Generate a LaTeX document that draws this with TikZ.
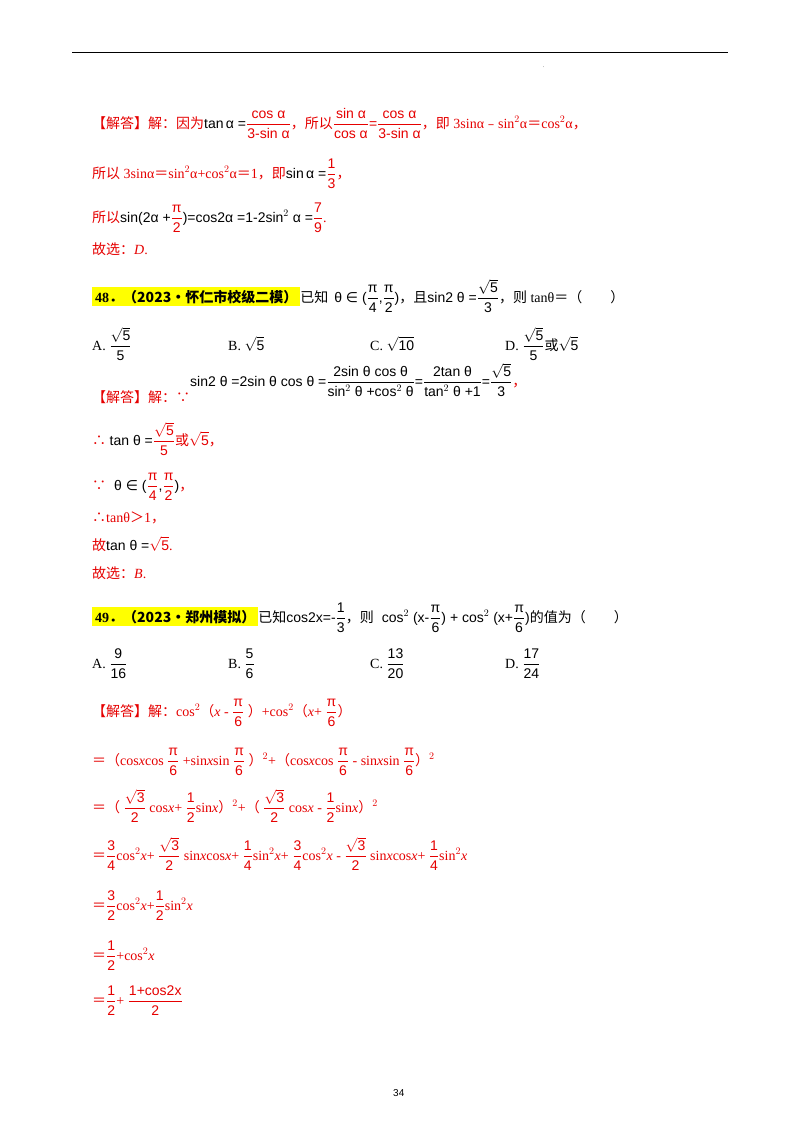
\documentclass[tikz,border=0pt]{standalone}
\usepackage{amsmath}
\usepackage{fontspec}
\usepackage{newunicodechar}
\setmainfont{Liberation Serif}
\newfontfamily\cjk{Noto Sans CJK SC}
\newfontfamily\ms{Liberation Sans}
\newfontfamily\djvfont{DejaVu Sans}
\newunicodechar{＝}{{\cjk\symbol{"FF1D}}}
\newunicodechar{﹣}{{\cjk\symbol{"FE63}}}
\newunicodechar{＞}{{\cjk\symbol{"FF1E}}}
\newunicodechar{．}{{\cjk\symbol{"FF0E}}}
\newunicodechar{，}{{\cjk\symbol{"FF0C}}}
\newunicodechar{∴}{{\cjk\symbol{"2234}}}
\newunicodechar{∵}{{\cjk\symbol{"2235}}}
\newunicodechar{∈}{{\djvfont\symbol{"2208}}}
\definecolor{ans}{RGB}{230,0,0}
\definecolor{hl}{RGB}{255,255,0}
\newcommand\fr[2]{\ensuremath{\dfrac{\text{\ms\rule{0pt}{15pt}#1}}{\text{\ms\rule[-4pt]{0pt}{16pt}#2}}}}
\newcommand\sq[1]{\ensuremath{\sqrt{\text{\ms #1}}}}
\newcommand\C[1]{{\cjk #1}}
\begin{document}
\begin{tikzpicture}[x=1pt,y=-1pt,
  ln/.style={anchor=base west,inner sep=0pt,font=\fontsize{14}{16}\selectfont},
  red/.style={ln,text=ans}]
\useasboundingbox (0,0) rectangle (800,1132);
\fill[white] (0,0) rectangle (800,1132);
\draw[line width=1pt] (72,53) -- (728,53);
\node[ln,font=\tiny] (dot) at (543,67) {.};
% Q47 answer
\node[red] (l1) at (92,128) {\C{【解答】解：因为}{\ms\color{black}tan\,α =}\fr{cos α}{3-sin α}\C{，所以}\fr{sin α}{cos α}{\ms =}\fr{cos α}{3-sin α}\C{，即} 3sinα﹣sin$^2$α＝cos$^2$α，};
\node[red] (l2) at (92,178) {\C{所以} 3sinα＝sin$^2$α+cos$^2$α＝1\C{，即}{\ms\color{black}sin\,α =}\fr{1}{3}\C{，}};
\node[red] (l3) at (92,222) {\C{所以}{\ms\color{black} sin(2α +}\fr{π}{2}{\ms\color{black})=cos2α =1-2sin$^2$ α =}\fr{7}{9}.};
\node[red] (l4) at (92,254) {\C{故选：}\textit{D}.};
% Q48
\node[ln] (q48) at (92,302) {\colorbox{hl}{\textbf{48．\C{（2023•怀仁市校级二模）}}}\C{已知}\hspace{6pt}{\ms θ ∈ (}\fr{π}{4}{\ms ,}\fr{π}{2}{\ms )}\C{，且}{\ms sin2 θ =}\fr{\sq{5}}{3}\C{，则} tanθ＝\C{（\qquad）}};
\node[ln] (a48) at (92,350) {A.\ \fr{\sq{5}}{5}};
\node[ln] (b48) at (228,350) {B.\ \sq{5}};
\node[ln] (c48) at (370,350) {C.\ \sq{10}};
\node[ln] (d48) at (505,350) {D.\ \fr{\sq{5}}{5}\C{或}\sq{5}};
\node[red] (s1) at (92,402) {\C{【解答】解：}∵};
\node[ln] (s1f) at (190,386) {\ms sin2 θ =2sin θ cos θ =\fr{2sin θ cos θ}{sin$^2$ θ +cos$^2$ θ}=\fr{2tan θ}{tan$^2$ θ +1}=\fr{\sq{5}}{3}\textcolor{ans}{\C{，}}};
\node[red] (s2) at (92,445) {∴\ {\color{black}\ms tan θ =}\fr{\sq{5}}{5}\C{或}\sq{5}\C{，}};
\node[red] (s3) at (92,490) {∵\hspace{8pt}{\color{black}\ms θ ∈ (}\fr{π}{4}{\color{black}\ms ,}\fr{π}{2}{\color{black}\ms )}\C{，}};
\node[red] (s4) at (92,522) {∴tanθ＞1\C{，}};
\node[red] (s5) at (92,550) {\C{故}{\color{black}\ms tan θ =}\sq{5}.};
\node[red] (s6) at (92,578) {\C{故选：}\textit{B}.};
% Q49
\node[ln] (q49) at (92,622) {\colorbox{hl}{\textbf{49．\C{（2023•郑州模拟）}}}\C{已知}{\ms cos2x=-}\fr{1}{3}\C{，则}\hspace{8pt}{\ms cos$^2$ (x-}\fr{π}{6}{\ms ) + cos$^2$ (x+}\fr{π}{6}{\ms )}\C{的值为（\qquad）}};
\node[ln] (a49) at (92,668) {A.\ \fr{9}{16}};
\node[ln] (b49) at (228,668) {B.\ \fr{5}{6}};
\node[ln] (c49) at (370,668) {C.\ \fr{13}{20}};
\node[ln] (d49) at (505,668) {D.\ \fr{17}{24}};
\node[red] (t1) at (92,716) {\C{【解答】解：}cos$^2$\C{（}\textit{x} - \fr{π}{6} \C{）}+cos$^2$\C{（}\textit{x}+ \fr{π}{6}\C{）}};
\node[red] (t2) at (92,765) {＝\C{（}cos\textit{x}cos \fr{π}{6} +sin\textit{x}sin \fr{π}{6} \C{）}$^2$+\C{（}cos\textit{x}cos \fr{π}{6} - sin\textit{x}sin \fr{π}{6}\C{）}$^2$};
\node[red] (t3) at (92,812) {＝\C{（} \fr{\sq{3}}{2} cos\textit{x}+ \fr{1}{2}sin\textit{x}\C{）}$^2$+\C{（} \fr{\sq{3}}{2} cos\textit{x} - \fr{1}{2}sin\textit{x}\C{）}$^2$};
\node[red] (t4) at (92,860) {＝\fr{3}{4}cos$^2$\textit{x}+ \fr{\sq{3}}{2} sin\textit{x}cos\textit{x}+ \fr{1}{4}sin$^2$\textit{x}+ \fr{3}{4}cos$^2$\textit{x} - \fr{\sq{3}}{2} sin\textit{x}cos\textit{x}+ \fr{1}{4}sin$^2$\textit{x}};
\node[red] (t5) at (92,910) {＝\fr{3}{2}cos$^2$\textit{x}+\fr{1}{2}sin$^2$\textit{x}};
\node[red] (t6) at (92,960) {＝\fr{1}{2}+cos$^2$\textit{x}};
\node[red] (t7) at (92,1005) {＝\fr{1}{2}+ \fr{1+cos2x}{2}};
\node[ln,font=\ms\fontsize{10}{12}\selectfont] (pg) at (393,1096) {34};
\end{tikzpicture}
\end{document}
